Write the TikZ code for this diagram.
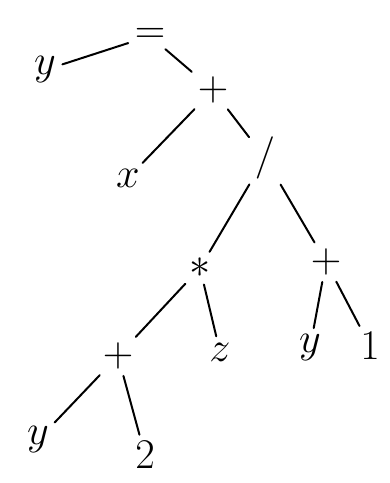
\documentclass[tikz,border=0pt]{standalone}
\usepackage{tikz}
\usetikzlibrary{positioning}

\begin{document}
\begin{tikzpicture}[x=1pt,y=1pt]
		\useasboundingbox (0,0) rectangle (390,-483);
		\tikzset{sym/.style={font=\Huge,scale=1.7,inner sep=2pt},
			edge/.style={line width=2pt,line cap=round,shorten <=3pt,shorten >=3pt}}
		% nodes
		\node[sym] (eq) at (150,-36) {$=$};
		\node[sym] (ya) at (45,-70) {$y$};
		\node[sym] (plusa) at (213,-90) {$+$};
		\node[sym] (xa) at (128,-178) {$x$};
		\node[sym] (div) at (265,-158) {$/$};
		\node[sym] (times) at (200,-268) {$\ast$};
		\node[sym] (plusb) at (326,-262) {$+$};
		\node[sym] (plusc) at (118,-356) {$+$};
		\node[sym] (za) at (220,-352) {$z$};
		\node[sym] (yb) at (310,-348) {$y$};
		\node[sym] (one) at (370,-346) {$1$};
		\node[sym] (yc) at (38,-440) {$y$};
		\node[sym] (two) at (145,-455) {$2$};
		% edges
		\draw[edge] (eq) -- (ya);
		\draw[edge] (eq) -- (plusa);
		\draw[edge] (plusa) -- (xa);
		\draw[edge] (plusa) -- (div);
		\draw[edge] (div) -- (times);
		\draw[edge] (div) -- (plusb);
		\draw[edge] (times) -- (plusc);
		\draw[edge] (times) -- (za);
		\draw[edge] (plusb) -- (yb);
		\draw[edge] (plusb) -- (one);
		\draw[edge] (plusc) -- (yc);
		\draw[edge] (plusc) -- (two);
	\end{tikzpicture}
\end{document}
